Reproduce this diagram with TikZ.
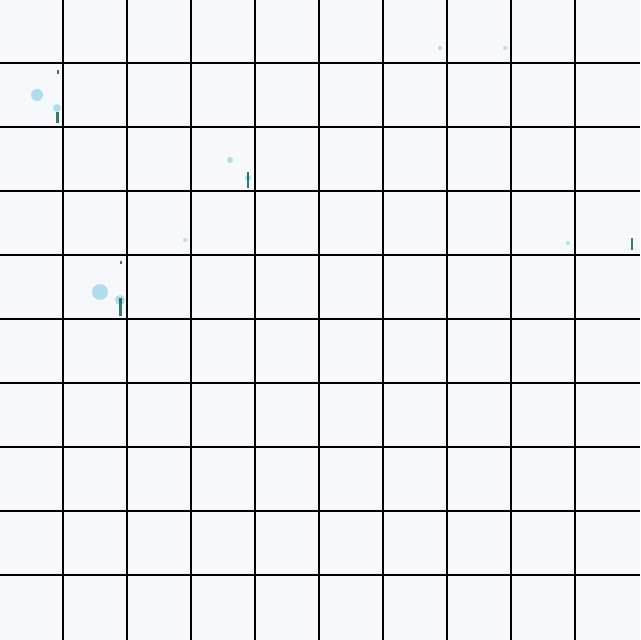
\documentclass[tikz,border=0pt]{standalone}
\begin{document}
\begin{tikzpicture}[x=0.5pt,y=-0.5pt]
\definecolor{bg}{HTML}{F6F8FC}
\definecolor{speck}{HTML}{2AB0C8}
\definecolor{speckdark}{HTML}{0A5A50}
\tikzset{gridline/.style={black,line width=1pt},
 blob/.style={fill=speck,opacity=0.35},
 dot/.style={fill=speckdark,opacity=0.8}}
\fill[bg] (0,0) rectangle (640,640);
\useasboundingbox (0,0) rectangle (640,640);
% specks
\fill[blob] (37,95) circle (6);
\fill[blob] (57,108) circle (4);
\fill[dot] (56,112) rectangle (59,123);
\fill[dot] (57,70) rectangle (59,74);
\fill[blob] (100,292) circle (8);
\fill[blob] (120,300) circle (5);
\fill[dot] (119,298) rectangle (122,316);
\fill[dot] (120,261) rectangle (122,264);
\fill[blob] (230,160) circle (3);
\fill[blob] (248,178) circle (3);
\fill[dot] (247,172) rectangle (249,188);
\fill[blob] (440,48) circle (2);
\fill[blob] (505,48) circle (2);
\fill[blob] (185,240) circle (2);
\fill[blob] (568,243) circle (2);
\fill[dot] (631,238) rectangle (633,250);
\foreach \k in {1,...,9}{
  \draw[gridline] (64*\k-1,0) -- (64*\k-1,640);
  \draw[gridline] (0,64*\k-1) -- (640,64*\k-1);
}
\end{tikzpicture}
\end{document}
